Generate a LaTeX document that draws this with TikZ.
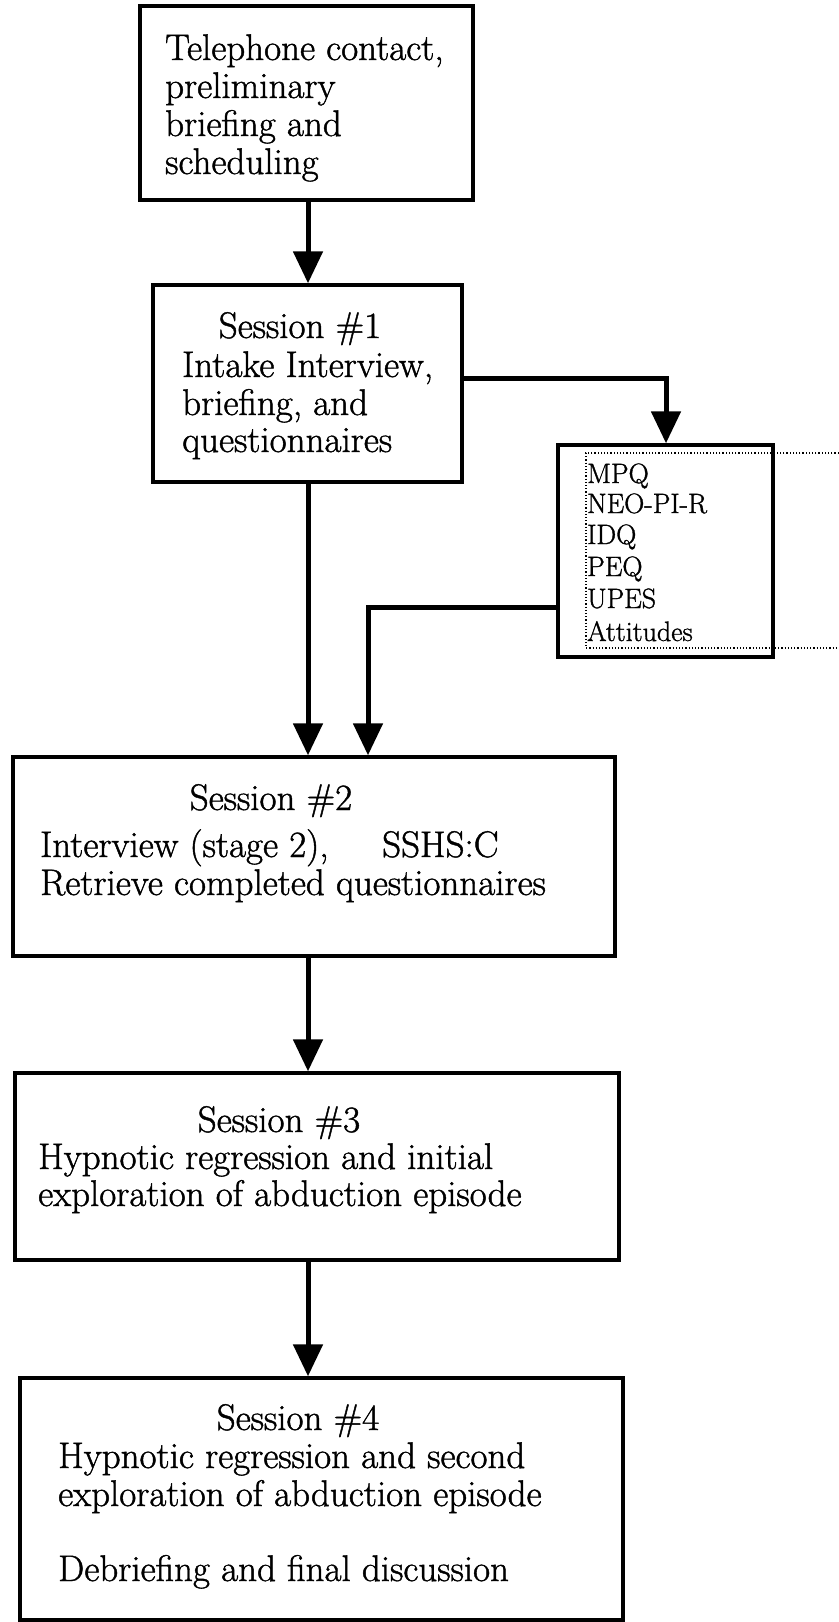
\documentclass[tikz,border=0pt]{standalone}
\usepackage{fontspec}
\newfontfamily\diagfont{Latin Modern Roman}[FakeBold=1.2]
\usetikzlibrary{arrows.meta}
\tikzset{
  box/.style={draw, line width=3.4pt, rectangle, inner sep=0pt},
  txt/.style={inner sep=0pt, anchor=base west, font=\diagfont\fontsize{37}{38}\selectfont},
  ttl/.style={inner sep=0pt, anchor=base, font=\diagfont\fontsize{37}{38}\selectfont},
  lst/.style={inner sep=0pt, anchor=base west, font=\diagfont\fontsize{28}{32}\selectfont},
  conn/.style={line width=5pt, -{Triangle[width=29pt,length=32pt]}},
}
\begin{document}
\begin{tikzpicture}[x=1pt,y=-1pt]
\fill[white] (0,0) rectangle (838,1622);
\useasboundingbox (0,0) rectangle (838,1622);
% boxes
\node[box, minimum width=333pt, minimum height=194pt] (b1) at (306.5,103) {};
\node[box, minimum width=309pt, minimum height=197pt] (s1) at (307.5,383.5) {};
\node[box, minimum width=215pt, minimum height=212pt] (mpq) at (665.5,551) {};
\node[box, minimum width=602pt, minimum height=199pt] (s2) at (314,856.5) {};
\node[box, minimum width=604pt, minimum height=187pt] (s3) at (317,1166.5) {};
\node[box, minimum width=603pt, minimum height=242pt] (s4) at (321.5,1499) {};
% inner dotted frame of the questionnaire list
\draw[dotted, line width=1.2pt] (842,453) -- (586,453) -- (586,648) -- (842,648);
% texts
\node[txt] (t1a) at (165,60) {Telephone contact,};
\node[txt] (t1b) at (165,98) {preliminary};
\node[txt] (t1c) at (165,136) {briefing and};
\node[txt] (t1d) at (165,174) {scheduling};
\node[ttl] (t2a) at (300,338) {Session \#1};
\node[txt] (t2b) at (182,377) {Intake Interview,};
\node[txt] (t2c) at (182,415) {briefing, and};
\node[txt] (t2d) at (182,452) {questionnaires};
\node[lst] (l1) at (587,483) {MPQ};
\node[lst] (l2) at (587,513) {NEO-PI-R};
\node[lst] (l3) at (587,544) {IDQ};
\node[lst] (l4) at (587,576) {PEQ};
\node[lst] (l5) at (587,608) {UPES};
\node[lst] (l6) at (587,641) {Attitudes};
\node[ttl] (t3a) at (271,810) {Session \#2};
\node[txt] (t3b) at (40,857) {Interview (stage 2),};
\node[txt] (t3s) at (382,857) {SSHS:C};
\node[txt] (t3c) at (40,895) {Retrieve completed questionnaires};
\node[ttl] (t4a) at (279,1132) {Session \#3};
\node[txt] (t4b) at (38,1169) {Hypnotic regression and initial};
\node[txt] (t4c) at (38,1206) {exploration of abduction episode};
\node[ttl] (t5a) at (298,1430) {Session \#4};
\node[txt] (t5b) at (58,1468) {Hypnotic regression and second};
\node[txt] (t5c) at (58,1506) {exploration of abduction episode};
\node[txt] (t5d) at (58,1581) {Debriefing and final discussion};
% connector guide coordinates
\coordinate (xa) at (308,0);
\coordinate (c1) at (666,378);
\coordinate (c2) at (368,607);
% connectors
\draw[conn] (xa |- b1.south) -- (xa |- s1.north);
\draw[conn] (s1.east |- c1) -- (c1) -- (c1 |- mpq.north);
\draw[conn] (mpq.west |- c2) -- (c2) -- (c2 |- s2.north);
\draw[conn] (xa |- s1.south) -- (xa |- s2.north);
\draw[conn] (xa |- s2.south) -- (xa |- s3.north);
\draw[conn] (xa |- s3.south) -- (xa |- s4.north);
\end{tikzpicture}
\end{document}
